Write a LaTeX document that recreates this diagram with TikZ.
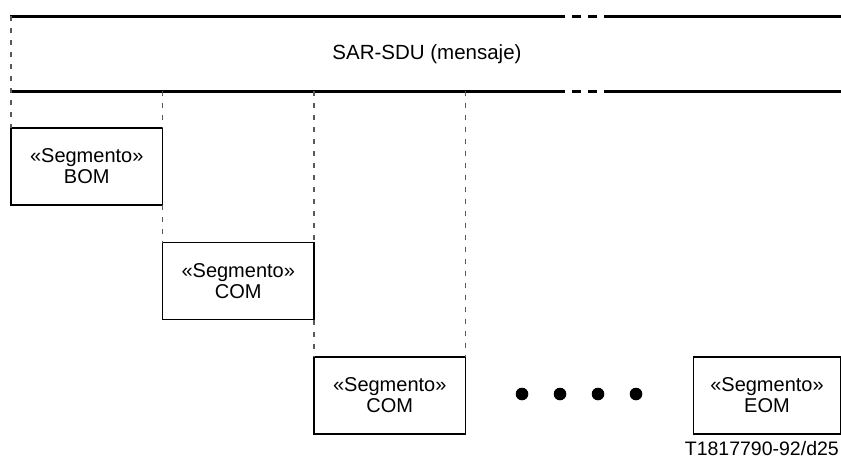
\documentclass[tikz,border=0pt]{standalone}
\usepackage{fontspec}
\setmainfont{Liberation Sans}
\usetikzlibrary{positioning}

\tikzset{
	seg/.style={draw, line width=1.5pt, minimum width=151.5pt, minimum height=77pt,
		inner sep=0pt, outer sep=0pt, align=center, font=\fontsize{20}{21}\selectfont},
	guide/.style={gray!70!black, line width=1.2pt, dash pattern=on 5pt off 7pt},
	band/.style={line width=3pt},
	gapline/.style={line width=3pt, dash pattern=on 9pt off 7pt}
}

\begin{document}
\begin{tikzpicture}[x=1pt,y=-1pt]
		\useasboundingbox (0,0) rectangle (841,463);

		% Message band
		\node[font=\fontsize{20.5}{24}\selectfont] (sdu) at (427,54) {SAR-SDU (mensaje)};
		\coordinate (tl) at (10,16);
		\coordinate (tg) at (556,16);
		\coordinate (th) at (604,16);
		\coordinate (tr) at (841,16);
		\coordinate (bl) at (10,91);
		\coordinate (bg) at (556,91);
		\coordinate (bh) at (604,91);
		\coordinate (br) at (841,91);
		\draw[band] (tl) -- (tg);
		\draw[gapline] (tg) -- (th);
		\draw[band] (th) -- (tr);
		\draw[band] (bl) -- (bg);
		\draw[gapline] (bg) -- (bh);
		\draw[band] (bh) -- (br);

		% Segments
		\node[seg, anchor=north west] (bom) at (11,128) {«Segmento»\\BOM};
		\node[seg, below right=37.5pt and 0pt of bom] (com1) {«Segmento»\\COM};
		\node[seg, below right=37.5pt and 0pt of com1] (com2) {«Segmento»\\COM};
		\node[seg, minimum width=147pt, right=228pt of com2] (eom) {«Segmento»\\EOM};

		% Guides
		\coordinate (g1) at (bom.north east |- bl);
		\coordinate (g2) at (com1.north east |- bl);
		\coordinate (g3) at (com2.north east |- bl);
		\draw[guide] (11,16) -- (bom.north west);
		\draw[guide] (g1) -- (bom.north east);
		\draw[guide] (bom.south east) -- (com1.north west);
		\draw[guide] (g2) -- (com1.north east);
		\draw[guide] (com1.south east) -- (com2.north west);
		\draw[guide] (g3) -- (com2.north east);

		% Dots
		\foreach \x in {522,560,598,636}
			\fill (\x,394) circle (6.3);

		\node[anchor=base east, inner sep=0pt, font=\fontsize{19.5}{22}\selectfont] (tag) at (839,455) {T1817790-92/d25};
\end{tikzpicture}
\end{document}
